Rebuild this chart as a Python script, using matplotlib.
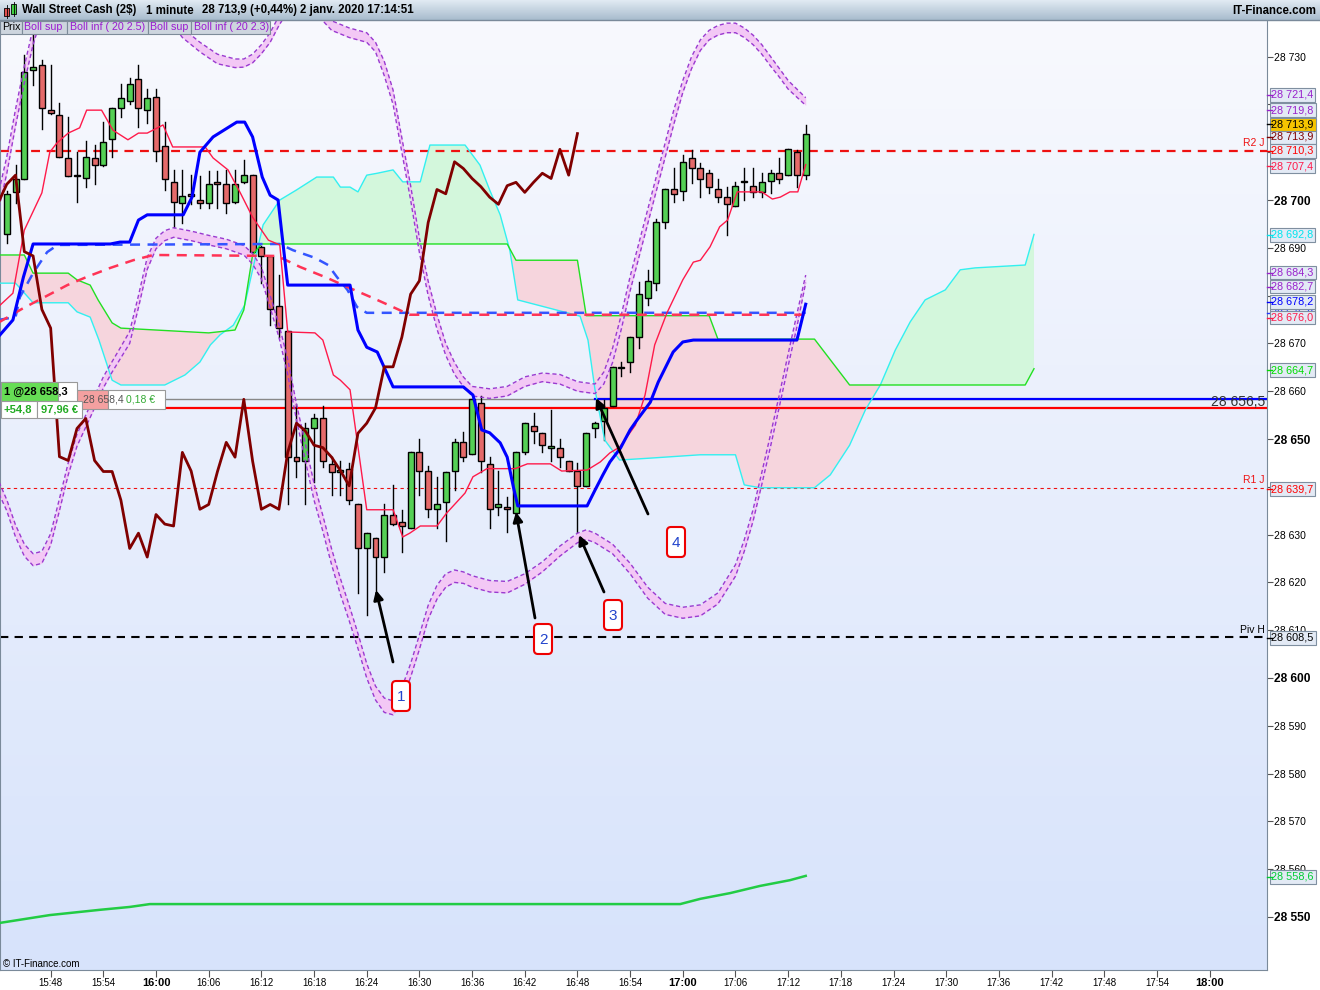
import numpy as np
import matplotlib
matplotlib.use('Agg')
import matplotlib.pyplot as plt
from matplotlib.patches import Rectangle, FancyBboxPatch
from matplotlib.colors import LinearSegmentedColormap
from matplotlib.transforms import blended_transform_factory

plt.rcParams['font.family'] = ['Liberation Sans', 'DejaVu Sans']

# bougies 1 minute, minutes comptees depuis 16:00
minutes = np.arange(-17, 75)
opens = [28692.9, 28701.7, 28704.3, 28727.3, 28728.2, 28718.8, 28717.8, 28708.7, 28705.1, 28704.7,
         28708.7, 28707.3, 28712.7, 28719.2, 28720.7, 28725.3, 28718.8, 28721.6, 28711.2, 28703.7,
         28699.3, 28701.3, 28700.1, 28699.3, 28703.7, 28703.3, 28699.6, 28703.7, 28705.2, 28690.2,
         28688.3, 28677.8, 28672.7, 28646.3, 28645.5, 28652.2, 28654.3, 28644.8, 28643.2, 28643.7,
         28636.4, 28627.1, 28629.2, 28625.3, 28634.2, 28632.7, 28631.3, 28647.2, 28643.3, 28635.3,
         28636.8, 28643.3, 28649.3, 28646.9, 28657.6, 28644.7, 28635.7, 28635.8, 28634.6, 28647.2,
         28652.7, 28651.2, 28648.2, 28648.2, 28645.3, 28643.4, 28640.2, 28652.2, 28653.8, 28656.9,
         28664.8, 28666.2, 28671.3, 28679.6, 28682.7, 28695.3, 28702.2, 28701.9, 28708.7, 28706.6,
         28705.6, 28702.2, 28700.6, 28698.7, 28703.7, 28703.0, 28701.6, 28704.0, 28705.6, 28705.2,
         28710.1, 28705.2]
highs = [28701.9, 28707.3, 28730.3, 28734.5, 28729.3, 28728.2, 28720.2, 28717.4, 28710.1, 28712.3,
         28711.5, 28716.4, 28719.2, 28724.3, 28725.5, 28728.2, 28723.2, 28723.2, 28716.4, 28706.3,
         28706.3, 28705.2, 28705.1, 28706.1, 28706.1, 28706.3, 28706.3, 28708.4, 28705.3, 28690.3,
         28688.3, 28684.3, 28672.7, 28657.3, 28653.3, 28655.2, 28656.9, 28646.3, 28645.3, 28645.0,
         28636.4, 28630.3, 28629.2, 28636.4, 28640.4, 28635.1, 28647.2, 28650.1, 28644.4, 28642.1,
         28643.2, 28650.1, 28651.5, 28658.3, 28658.9, 28646.2, 28643.3, 28637.9, 28647.2, 28653.3,
         28655.4, 28651.2, 28656.1, 28650.1, 28645.3, 28644.9, 28651.2, 28653.5, 28658.2, 28665.1,
         28666.2, 28671.3, 28682.8, 28685.4, 28696.0, 28702.2, 28706.6, 28709.4, 28710.5, 28707.7,
         28706.3, 28704.5, 28702.8, 28703.8, 28706.6, 28706.6, 28705.6, 28706.3, 28708.7, 28710.6,
         28710.5, 28715.7]
lows = [28691.0, 28699.4, 28704.3, 28724.1, 28714.9, 28717.9, 28709.0, 28705.0, 28699.6, 28702.7,
        28703.3, 28707.2, 28709.1, 28717.3, 28720.1, 28715.2, 28716.2, 28708.2, 28702.0, 28694.3,
        28695.1, 28699.2, 28698.3, 28698.3, 28698.3, 28697.2, 28699.3, 28703.5, 28689.0, 28682.6,
        28673.8, 28671.4, 28636.4, 28642.1, 28636.4, 28641.1, 28644.2, 28638.3, 28638.3, 28636.5,
        28617.7, 28613.2, 28616.3, 28622.2, 28632.0, 28626.4, 28631.3, 28638.3, 28633.7, 28631.3,
        28628.7, 28639.3, 28645.3, 28646.9, 28643.2, 28631.3, 28634.2, 28630.6, 28634.6, 28646.9,
        28649.1, 28647.2, 28645.3, 28644.1, 28643.4, 28630.6, 28640.2, 28650.5, 28649.8, 28656.9,
        28663.2, 28664.1, 28669.1, 28678.0, 28681.2, 28694.1, 28699.6, 28700.0, 28703.6, 28700.6,
        28701.5, 28699.6, 28692.7, 28698.7, 28700.1, 28700.6, 28700.7, 28701.5, 28703.6, 28705.2,
        28702.8, 28704.5]
closes = [28701.3, 28704.3, 28726.7, 28727.8, 28719.2, 28718.1, 28709.1, 28705.1, 28705.0, 28709.1,
          28707.3, 28712.2, 28719.2, 28721.3, 28724.2, 28719.2, 28721.3, 28710.3, 28704.3, 28699.6,
          28700.8, 28700.8, 28699.3, 28703.3, 28703.3, 28699.3, 28703.3, 28705.2, 28689.2, 28688.3,
          28677.1, 28673.2, 28646.3, 28645.5, 28652.2, 28654.3, 28645.5, 28643.2, 28643.2, 28637.2,
          28627.1, 28630.3, 28625.3, 28634.2, 28632.2, 28631.8, 28647.2, 28643.3, 28635.3, 28636.3,
          28643.2, 28649.3, 28646.2, 28658.3, 28645.4, 28635.3, 28636.3, 28635.3, 28647.2, 28653.3,
          28651.7, 28648.7, 28648.2, 28646.2, 28643.4, 28640.2, 28651.2, 28653.3, 28656.5, 28665.1,
          28665.1, 28671.3, 28680.3, 28683.1, 28695.3, 28702.2, 28701.3, 28708.0, 28706.6, 28704.5,
          28702.8, 28700.6, 28699.1, 28703.0, 28703.7, 28701.6, 28703.7, 28705.6, 28704.5, 28710.6,
          28705.2, 28713.9]

# bandes de Bollinger (20 ; 2.5 et 2.3)
bb_up_m = [-18, -17, -16, -15, -14, -13, -10, -5, 0, 1, 3, 5, 7, 9, 10, 11, 12, 13, 14, 15, 17, 19, 20,
           22, 24, 25, 26, 27, 28, 29, 30, 31, 32, 33, 34, 35, 36, 38, 40, 42, 44, 46, 48, 50, 51, 52,
           53, 54, 55, 56, 57, 58, 59, 60, 61, 62, 63, 64, 65, 66, 67, 68, 69, 70, 71, 72, 73, 74]
bb_up_25 = [28701, 28709, 28719, 28728, 28736, 28742, 28750, 28752, 28748, 28741, 28736, 28733, 28730.5,
            28729.5, 28729.5, 28730.5, 28732.5, 28735, 28738.5, 28742, 28746, 28740, 28737.5, 28736,
            28735, 28733, 28729, 28723, 28713, 28703, 28692, 28683, 28676, 28670, 28666, 28663, 28661,
            28660.5, 28661, 28663, 28663.8, 28663.5, 28662, 28661.5, 28664, 28669, 28676, 28684, 28691,
            28698, 28705, 28712, 28719, 28725, 28730, 28733.5, 28735.5, 28736.5, 28737, 28737, 28736,
            28734.5, 28732.5, 28730, 28727.5, 28725, 28723.2, 28721.4]
bb_up_23 = [28697.5, 28705.5, 28715.5, 28724.5, 28732.5, 28738.5, 28746, 28748, 28745, 28739, 28734,
            28731, 28728.5, 28727.7, 28727.8, 28728.7, 28730.6, 28733, 28736.5, 28739.5, 28743, 28737.5,
            28735.5, 28734, 28733, 28731, 28726, 28720, 28710, 28700, 28689, 28680, 28673, 28667.5,
            28663.5, 28661, 28659, 28658.5, 28659, 28661, 28662, 28661.5, 28660, 28659.5, 28661.5,
            28666, 28673, 28681, 28688, 28695, 28702, 28709, 28716, 28722.5, 28727.5, 28731.3, 28733.5,
            28734.5, 28735, 28735, 28734, 28732.5, 28730.5, 28728, 28725.7, 28723.2, 28721.5, 28719.8]
bb_lo_m = [-18, -17, -16, -15, -14, -13, -12, -11, -10, -9, -8, -7, -6, -5, -4, -3, -2, -1, 0, 1, 2, 4,
           6, 8, 10, 11, 12, 13, 14, 15, 16, 17, 18, 19, 20, 21, 22, 23, 24, 25, 26, 27, 28, 29, 30, 31,
           32, 33, 34, 35, 36, 38, 40, 42, 44, 46, 48, 49, 50, 52, 54, 56, 58, 60, 62, 64, 66, 67, 68,
           69, 70, 71, 72, 73, 74]
bb_lo_23 = [28641.5, 28637.3, 28632, 28628, 28626, 28626.5, 28630.2, 28637.5, 28645, 28651, 28655,
            28659, 28663, 28666.2, 28669.3, 28672.5, 28680, 28688, 28692, 28693.6, 28694.2, 28693.5,
            28692.6, 28691.8, 28690.5, 28688.8, 28686, 28680, 28674, 28666.7, 28657.3, 28649, 28640.7,
            28634, 28627, 28620.8, 28615.2, 28609.3, 28603, 28598.3, 28595.8, 28595.2, 28598, 28603,
            28609, 28615.2, 28619.4, 28621.8, 28622.6, 28622.2, 28621.4, 28620.4, 28620.2, 28621.8,
            28624.3, 28627.6, 28630.3, 28631, 28630.3, 28628, 28624, 28619, 28615.6, 28614.8, 28615.3,
            28617.8, 28623.7, 28628.9, 28635.2, 28643, 28651, 28659.3, 28667.8, 28676.2, 28684.3]
bb_lo_25 = [28639, 28635, 28629.5, 28625.5, 28623.5, 28624, 28627.8, 28635, 28642.5, 28648.5, 28652.5,
            28656.5, 28660.7, 28664, 28667, 28670, 28677.5, 28685.5, 28689.8, 28691.5, 28692.2, 28691.5,
            28690.6, 28689.8, 28688.5, 28686.6, 28683.5, 28677.5, 28671.3, 28663.5, 28654, 28645.5,
            28637.2, 28630.7, 28623.7, 28617.5, 28612, 28606.2, 28600, 28595.4, 28592.8, 28592.3,
            28595.2, 28600.2, 28606, 28612.3, 28616.5, 28619, 28620, 28619.8, 28619, 28618, 28617.8,
            28619.6, 28622.2, 28625.5, 28628.3, 28629, 28628.3, 28626, 28621.8, 28616.7, 28613.3,
            28612.5, 28613, 28615.5, 28621.3, 28626.5, 28632.8, 28640.5, 28648.5, 28656.8, 28665.3,
            28673.5, 28682.7]

# Ichimoku
tenkan_m = [-18, -16.3, -15, -13, -12.1, -11.3, -10, -8.7, -7.9, -6.2, -4.9, -3.2, -2, -1, 0.8, 1.9, 5.6,
            6.5, 8.2, 9.6, 11, 12.8, 14.1, 15, 18.1, 19, 20.2, 21, 22.1, 24, 27, 28.1, 28.9, 30.1, 32,
            33.1, 35.2, 36.1, 37.7, 40.9, 42.3, 44.9, 46.2, 49.1, 50.6, 51.7, 52.8, 54.6, 55.7, 56.8,
            58.2, 60, 61.2, 62, 63.1, 64.2, 65.1, 66.2, 69, 70.2, 71.1, 72.2, 73.1, 74]
tenkan = [28677.6, 28680.5, 28693.7, 28701.5, 28710, 28711.9, 28714, 28715.1, 28718.8, 28718.8, 28714.6,
          28712.6, 28714, 28714, 28715.7, 28711.1, 28711.1, 28708.8, 28706.3, 28701.5, 28696.4, 28691.6,
          28690.6, 28672.4, 28672.2, 28670.7, 28663.4, 28662.3, 28660.3, 28635.2, 28635.2, 28629.5,
          28630.3, 28631.8, 28631.8, 28634.5, 28638.7, 28642.1, 28643.8, 28643.8, 28644.8, 28644.8,
          28643.3, 28643.5, 28645.2, 28647.1, 28648.3, 28652.9, 28659.2, 28669.7, 28676.4, 28683.3,
          28687, 28687.4, 28690.2, 28694.4, 28695.8, 28701.7, 28701.7, 28700.2, 28700.6, 28701.7,
          28701.7, 28707.4]
kijun_m = [-18, -16.3, -15.1, -14, -5.2, -4.1, -3, -2, -1, 3.1, 4.1, 5, 6.5, 9.2, 10.1, 11, 12.1, 13,
           13.9, 15, 22.1, 23, 24, 25.2, 27, 35, 36.1, 37.1, 38, 39.2, 40, 40.7, 41.2, 49.1, 50, 50.9,
           51.7, 52.9, 54, 54.8, 56.3, 57.2, 58.9, 60, 61.2, 73, 74]
kijun = [28671.3, 28674.9, 28683.9, 28690.8, 28690.8, 28691.2, 28691.2, 28695.8, 28696.9, 28696.9,
         28700.6, 28710, 28713.2, 28716.3, 28716.3, 28713.2, 28704.8, 28701, 28700, 28682.2, 28682.2,
         28672.8, 28669.2, 28668.2, 28660.9, 28660.9, 28659.2, 28651.9, 28651.3, 28649.2, 28646.2,
         28640, 28636, 28636, 28639.3, 28642.5, 28645.2, 28648.1, 28651.9, 28654, 28657.7, 28661.9,
         28668.2, 28670.3, 28670.7, 28670.7, 28678.2]
ssa_m = [-18, -16, -14, -10, -9, -7.5, -6.5, -5, -4, 1, 3.3, 5, 6.2, 7.3, 8.8, 10.1, 11, 12.2, 14.1, 16,
         18.3, 20.2, 21, 22.1, 23, 24, 25.2, 27, 28.1, 30.1, 31.2, 35.2, 36.9, 38, 39.2, 40.3, 41.2,
         48.3, 49.2, 50, 51.1, 52.8, 56.3, 62, 66, 67, 68.8, 75, 76.8, 79, 80.8, 82.5, 84.2, 85.9,
         87.6, 89.9, 91.6, 93.3, 99, 100]
ssa = [28682.6, 28682.6, 28678.5, 28678.5, 28676.6, 28675.5, 28670.7, 28662.3, 28661.3, 28661.3,
       28663.4, 28666.1, 28669.7, 28671.8, 28673.8, 28678, 28685.4, 28694.8, 28700, 28702.1, 28704.8,
       28704.8, 28702.7, 28702.7, 28701.7, 28705.2, 28705.6, 28706.3, 28703.8, 28703.8, 28711.5,
       28711.5, 28707.3, 28702.1, 28696.9, 28689.5, 28679.1, 28675.7, 28670.7, 28660.3, 28649.8,
       28645.6, 28646, 28646.7, 28646.7, 28640.4, 28639.8, 28639.8, 28642.5, 28648.7, 28656.1,
       28661.3, 28668.6, 28674.5, 28679.1, 28681.2, 28685.4, 28685.8, 28686.4, 28692.8]
ssb_m = [-18, -15, -14, -10, -9, -7.5, -6.6, -5, -4, 6, 9, 10, 11, 12, 40, 41, 48, 49, 63, 64, 75,
         79, 99, 100]
ssb = [28688.5, 28688.5, 28684.7, 28684.7, 28683.3, 28682.2, 28679.1, 28674.3, 28673.2, 28672.2,
       28672.8, 28677, 28688.5, 28690.8, 28690.8, 28687.4, 28687.4, 28675.8, 28675.8, 28670.9,
       28670.9, 28661.3, 28661.3, 28664.7]

# moyennes en pointilles et moyenne longue
mab_m = [-18, -16, -15.5, -14, -12.4, -11.2, 14.1, 15.6, 18.1, 19.6, 20.6, 21.8, 22.9, 24, 74]
mab = [28674.9, 28675.5, 28679.7, 28684.7, 28689.1, 28690.6, 28690.8, 28689.5, 28687.9, 28686.4,
       28683.9, 28681.2, 28677.6, 28676.4, 28676.4]
mar_m = [-18, -15.1, -12.9, -10.1, -7.9, -5.2, -2.6, -0.3, 13.8, 16.4, 19.5, 21.8, 24.7, 27, 28.9, 74]
mar = [28674.3, 28677.4, 28679.5, 28682.2, 28683.9, 28685.8, 28687.4, 28688.5, 28688.3, 28686,
       28683.7, 28681.8, 28679.5, 28677.6, 28676.0, 28676.0]
mal_m = [-18, -12.1, -6.4, -3, -0.7, 59.7, 62, 65.4, 68.8, 72.2, 74]
mal = [28548.7, 28550.4, 28551.5, 28552.1, 28552.7, 28552.7, 28553.8, 28555.0, 28556.5, 28557.7, 28558.6]

# niveaux
r2, r1, piv = 28710.3, 28639.7, 28608.5
entry, stop = 28658.3, 28656.5

# etiquettes de l'axe de droite : (valeur, position, couleur)
right_labels = [
    ('28 676,8', 28676.4, '#2233ff'),
    ('28 721,4', 28722.0, '#9922cc'),
    ('28 719,8', 28718.8, '#9922cc'),
    ('28 713,9', 28713.2, '#800000'),
    ('28 713,9', 28715.8, 'black'),
    ('28 710,3', 28710.3, '#ff0000'),
    ('28 707,4', 28707.1, '#ff1a4a'),
    ('28 692,8', 28692.7, '#00e5ee'),
    ('28 684,3', 28684.8, '#9922cc'),
    ('28 682,7', 28681.9, '#9922cc'),
    ('28 678,2', 28678.7, '#0000ff'),
    ('28 676,0', 28675.4, '#ff1a4a'),
    ('28 664,7', 28664.4, '#00dd00'),
    ('28 639,7', 28639.5, '#ff0000'),
    ('28 608,5', 28608.4, 'black'),
    ('28 558,6', 28558.4, '#00cc33'),
]
yticks = list(range(28550, 28731, 10))
hidden_ticks = [28720, 28710, 28680, 28640]   # masques par les etiquettes
xticks = list(range(-12, 121, 6))
xtick_labels = ['15:48', '15:54', '16:00', '16:06', '16:12', '16:18', '16:24', '16:30', '16:36',
                '16:42', '16:48', '16:54', '17:00', '17:06', '17:12', '17:18', '17:24', '17:30',
                '17:36', '17:42', '17:48', '17:54', '18:00']

fig = plt.figure(figsize=(13.2, 9.9), dpi=100)
ax = fig.add_axes([0, 20 / 990, 1267 / 1320, 950 / 990])
x0, x1 = -17.77, 126.54
y0, y1 = 28538.91, 28737.66

bg = LinearSegmentedColormap.from_list('bg', ['#f8f9fe', '#d7e3fb'])
ax.imshow(np.linspace(0, 1, 256).reshape(-1, 1), cmap=bg, aspect='auto',
          extent=[x0, x1, y0, y1], zorder=0)

# nuage
xs = np.linspace(-18, 100, 3000)
a = np.interp(xs, ssa_m, ssa)
b = np.interp(xs, ssb_m, ssb)
ax.fill_between(xs, a, b, where=a >= b, color='#d3f7dc', interpolate=True, lw=0, zorder=1)
ax.fill_between(xs, a, b, where=a < b, color='#f6d5dd', interpolate=True, lw=0, zorder=1)
ax.plot(ssa_m, ssa, color='#33f0f0', lw=1, zorder=4)
ax.plot(ssb_m, ssb, color='#22e022', lw=1, zorder=4)

# bollinger
for m, v1, v2 in [(bb_up_m, bb_up_25, bb_up_23), (bb_lo_m, bb_lo_23, bb_lo_25)]:
    ax.fill_between(m, v1, v2, color='#f3c8f5', lw=0, zorder=1.5)
    ax.plot(m, v1, color='#9a3ad0', lw=1, dashes=(3, 2), zorder=4)
    ax.plot(m, v2, color='#9a3ad0', lw=1, dashes=(3, 2), zorder=4)

# niveaux horizontaux
ax.axhline(r2, color='#ee1111', lw=1.6, dashes=(4, 3), zorder=2)
ax.axhline(r1, color='#ee1111', lw=0.8, dashes=(3, 3), zorder=2)
ax.axhline(piv, color='black', lw=1.5, dashes=(4, 3), zorder=2)
ax.axhline(entry, color='#888888', lw=1, zorder=2)
ax.axhline(stop, color='#ff0000', lw=1.6, zorder=2)
ax.plot([50, x1], [entry, entry], color='#0000ff', lw=1.6, zorder=2)

# bougies
for m, o, h, l, c in zip(minutes, opens, highs, lows, closes):
    ax.plot([m, m], [l, h], color='black', lw=1, zorder=3)
    col = '#55d055' if c >= o else '#e56a6a'
    ax.add_patch(Rectangle((m - 0.34, min(o, c)), 0.68, max(abs(c - o), 0.3),
                           fc=col, ec='black', lw=1, zorder=3.1))

ax.plot(mab_m, mab, color='#3355ff', lw=1.8, dashes=(4, 3), zorder=4)
ax.plot(mar_m, mar, color='#ff3355', lw=1.8, dashes=(4, 3), zorder=4)
ax.plot(mal_m, mal, color='#22cc44', lw=1.8, zorder=4)
ax.plot(tenkan_m, tenkan, color='#ff1a4a', lw=1, zorder=5)
ax.plot(kijun_m, kijun, color='#0000ff', lw=2.2, zorder=5)
ax.plot(minutes - 26, closes, color='#800000', lw=2, zorder=5)

ax.set_xlim(x0, x1)
ax.set_ylim(y0, y1)

# axes
ax.spines['top'].set_visible(False)
for s in ['right', 'bottom', 'left']:
    ax.spines[s].set_color('#7a8a9a')
ax.yaxis.tick_right()
ax.set_yticks(yticks)
ax.set_yticklabels(['' if v in hidden_ticks else f'{v // 1000} {v % 1000:03d}' for v in yticks])
for lab, v in zip(ax.get_yticklabels(), yticks):
    lab.set_fontsize(8.6 if v % 50 == 0 else 7.5)
    if v % 50 == 0:
        lab.set_fontweight('bold')
ax.set_xticks(xticks)
ax.set_xticklabels(xtick_labels)
for lab, v in zip(ax.get_xticklabels(), xticks):
    lab.set_fontsize(8 if v % 60 == 0 else 7)
    if v % 60 == 0:
        lab.set_fontweight('bold')
ax.tick_params(axis='y', direction='out', length=4, pad=1, color='#555555')
ax.tick_params(axis='x', direction='out', length=5, pad=1, color='#555555')

tr = blended_transform_factory(ax.transAxes, ax.transData)
for txt, pos, col in right_labels:
    fc = '#f5c400' if col == 'black' and txt == '28 713,9' else '#e3eaf5'
    ax.text(1.0035, pos, txt, transform=tr, fontsize=7.8, color=col, va='center', ha='left',
            clip_on=False, zorder=6,
            bbox=dict(boxstyle='square,pad=0.16', fc=fc, ec='#7f8fa0', lw=0.8))
    ax.plot([1.0, 1.004], [pos, pos], transform=tr, color=col, lw=1, clip_on=False, zorder=6)

ax.text(0.9984, r2 + 0.6, 'R2 J', transform=tr, fontsize=7.5, color='#ee1111', ha='right', va='bottom')
ax.text(0.9984, r1 + 0.6, 'R1 J', transform=tr, fontsize=7.5, color='#ee1111', ha='right', va='bottom')
ax.text(0.9984, piv + 0.6, 'Piv H', transform=tr, fontsize=7.5, color='black', ha='right', va='bottom')
ax.text(0.9984, (entry + stop) / 2 + 0.3, '28 656,5', transform=tr, fontsize=10, color='#333333',
        ha='right', va='center', zorder=2.5)

# surcouche en pixels
ov = fig.add_axes([0, 0, 1, 1])
ov.set_xlim(0, 1320)
ov.set_ylim(990, 0)
ov.axis('off')

hdr = LinearSegmentedColormap.from_list('hdr', ['#e1eaf3', '#a8bccd'])
ov.imshow(np.linspace(0, 1, 32).reshape(-1, 1), cmap=hdr, aspect='auto', extent=[0, 1320, 20, 0])
ov.plot([0, 1320], [20, 20], color='#7a8a9a', lw=1)
ov.add_patch(Rectangle((4, 8), 5, 8, fc='#e05050', ec='black', lw=0.6))
ov.plot([6.5, 6.5], [5, 18], color='black', lw=0.6)
ov.add_patch(Rectangle((11, 4), 5, 10, fc='#40d040', ec='black', lw=0.6))
ov.plot([13.5, 13.5], [2, 16], color='black', lw=0.6)
ov.text(22, 10.5, 'Wall Street Cash (2$)', fontsize=8.3, fontweight='bold', va='center')
ov.text(146, 10.5, '1 minute', fontsize=8.3, fontweight='bold', va='center')
ov.text(202, 10.5, '28 713,9 (+0,44%)', fontsize=8.3, fontweight='bold', va='center')
ov.text(300, 10.5, '2 janv. 2020 17:14:51', fontsize=8.3, fontweight='bold', va='center')
ov.text(1316, 10.5, 'IT-Finance.com', fontsize=8.3, fontweight='bold', va='center', ha='right')

legend_items = [('Prix', 0, 22, 'black'), ('Boll sup', 22, 67, '#9a1ad0'),
                ('Boll inf ( 20 2.5)', 67, 148, '#9a1ad0'), ('Boll sup', 148, 191, '#9a1ad0'),
                ('Boll inf ( 20 2.3)', 191, 270, '#9a1ad0')]
for txt, xa, xb, col in legend_items:
    ov.add_patch(Rectangle((xa, 21), xb - xa, 12.5, fc='#cdd5de', ec='#7d8b99', lw=0.8, zorder=7))
    ov.text(xa + 2.5, 27.5, txt, fontsize=7.7, color=col, va='center', zorder=8)

# boite de position
ov.add_patch(Rectangle((77, 390), 31, 19, fc='#f4a0a0', ec='#999999', lw=0.8, zorder=7))
ov.add_patch(Rectangle((108, 390), 57, 19, fc='white', ec='#999999', lw=0.8, zorder=7))
ov.text(83, 400, '28 658,4', fontsize=7.5, color='#555555', va='center', zorder=8)
ov.text(126, 400, '0,18 €', fontsize=7.5, color='#33aa33', va='center', zorder=8)
ov.add_patch(Rectangle((1, 382), 76, 19, fc='white', ec='#999999', lw=0.8, zorder=7))
ov.add_patch(Rectangle((1, 382), 57, 19, fc='#66dd55', ec='#999999', lw=0.8, zorder=7))
ov.text(4, 391.5, '1 @28 658,3', fontsize=8, fontweight='bold', color='black', va='center', zorder=8)
ov.add_patch(Rectangle((1, 401), 36, 17, fc='white', ec='#999999', lw=0.8, zorder=7))
ov.add_patch(Rectangle((37, 401), 45, 17, fc='white', ec='#999999', lw=0.8, zorder=7))
ov.text(4, 409.5, '+54,8', fontsize=8, fontweight='bold', color='#22aa22', va='center', zorder=8)
ov.text(41, 409.5, '97,96 €', fontsize=8, fontweight='bold', color='#22aa22', va='center', zorder=8)

# fleches et numeros
arrows = [((393, 662), (376, 590)), ((535, 618), (516, 512)),
          ((604, 592), (579, 535)), ((648, 514), (596, 398))]
for tail, tip in arrows:
    ov.annotate('', xy=tip, xytext=tail,
                arrowprops=dict(arrowstyle='-|>', color='black', lw=2, mutation_scale=14,
                                shrinkA=0, shrinkB=0))
numbers = [('1', 401, 696), ('2', 543, 639), ('3', 613, 615), ('4', 676, 542)]
for txt, cx, cy in numbers:
    ov.add_patch(FancyBboxPatch((cx - 9, cy - 15), 18, 30, boxstyle='round,pad=0,rounding_size=4',
                                fc='white', ec='#ee0000', lw=1.5, zorder=7))
    ov.text(cx, cy + 1, txt, fontsize=11, color='#2244cc', ha='center', va='center', zorder=8)

ov.text(3, 964, '© IT-Finance.com', fontsize=7, color='black', va='center')

fig.savefig('out.png', dpi=100, facecolor='white')
